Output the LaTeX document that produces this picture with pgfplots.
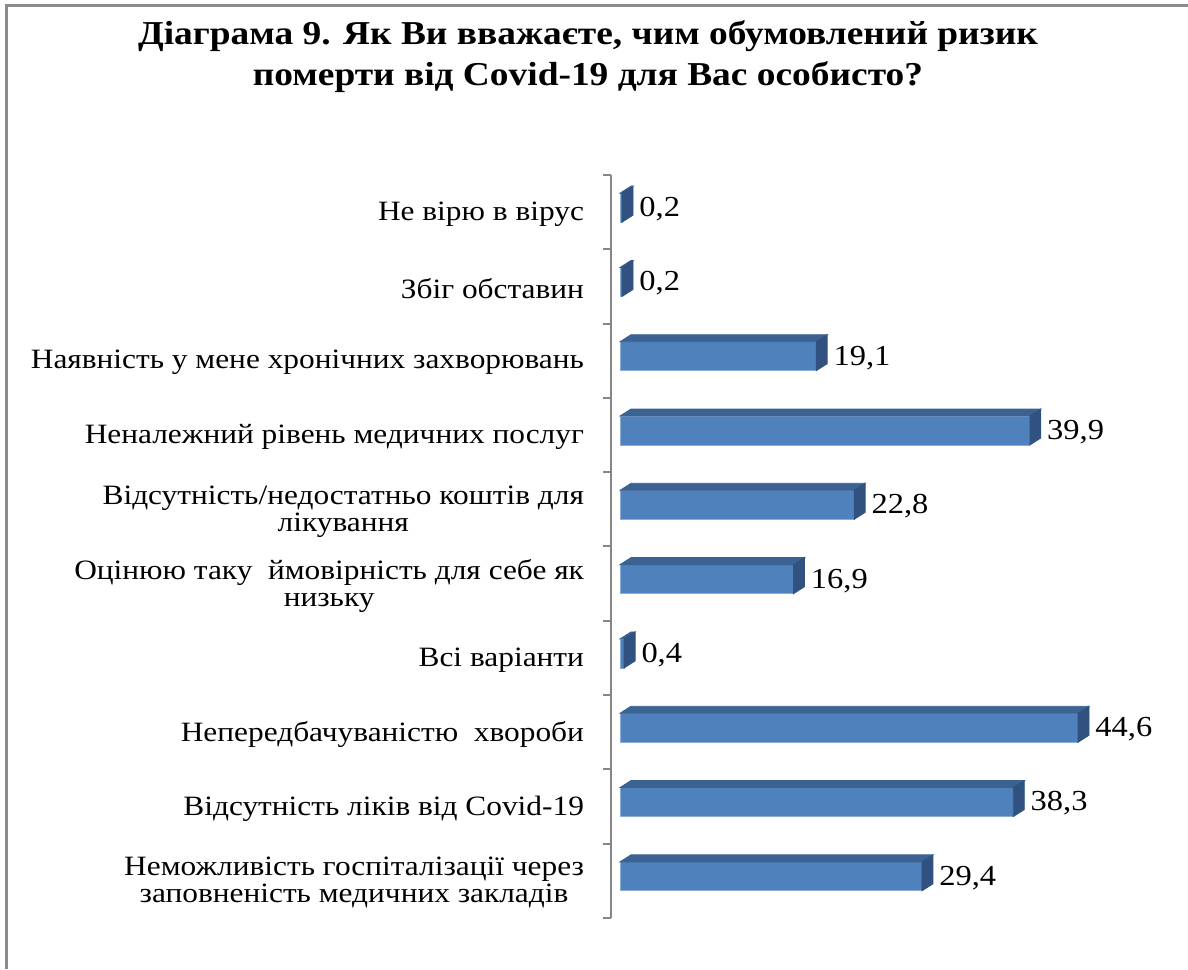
\documentclass[border=0pt]{standalone}
\usepackage{fontspec}
\setmainfont[FakeStretch=1.12]{Liberation Serif}
\usepackage{pgfplots}
\usepackage{pgfplotstable}
\pgfplotsset{compat=1.18}
\definecolor{barfront}{RGB}{79,129,189}
\definecolor{bartop}{RGB}{60,98,146}
\definecolor{barside}{RGB}{49,82,128}
\definecolor{baredge}{RGB}{140,172,214}
\definecolor{axisgray}{RGB}{134,134,134}
\definecolor{framegray}{RGB}{140,140,140}
\pgfplotstableread{
y v
0 0.2
1 0.2
2 19.1
3 39.9
4 22.8
5 16.9
6 0.4
7 44.6
8 38.3
9 29.4
}\datatable
\begin{document}
\begin{tikzpicture}
\useasboundingbox (0pt,0pt) rectangle (594pt,484.5pt);
\draw[framegray, line width=1.5pt] (3pt,0pt) -- (3pt,481.5pt) -- (594pt,481.5pt);
\node[font=\bfseries\fontsize{16.7}{20.5}\selectfont, align=center] at (294pt,456pt) {Діаграма 9. Як Ви вважаєте, чим обумовлений ризик\\померти від Covid-19 для Вас особисто?};
\begin{axis}[
  at={(305.5pt,25.5pt)}, anchor=south west,
  scale only axis, width=284.5pt, height=371.5pt,
  xmin=-0.876, xmax=54.53,
  ymin=-0.5, ymax=9.5, y dir=reverse,
  hide x axis, axis y line*=left,
  axis line style={axisgray, line width=1pt},
  ytick={0,...,9},
  yticklabels={{Не вірю в вірус},{Збіг обставин},{Наявність у мене хронічних захворювань},{Неналежний рівень медичних послуг},{Відсутність/недостатньо коштів для\\лікування},{Оцінюю таку \ ймовірність для себе як\\низьку},{Всі варіанти},{Непередбачуваністю \ хвороби},{Відсутність ліків від Covid-19},{Неможливість госпіталізації через\\заповненість медичних закладів}},
  yticklabel style={align=center, anchor=east, font=\fontsize{14}{13.5}\selectfont, xshift=-10pt, yshift=-1pt},
  major tick length=0pt,
  minor ytick={-0.5,0.5,...,9.5},
  minor tick length=4pt,
  tick align=outside,
  minor tick style={axisgray, line width=1pt},
  clip=false,
]
\addplot[scatter, only marks, mark=*, mark size=0pt,
  visualization depends on={x \as \val},
  scatter/@pre marker code/.code={%
    \pgfmathsetmacro\L{-\val*5.135}%
    \pgfmathsetmacro\Lt{5.5-\val*5.135}%
    \fill[barfront, draw=baredge, line width=0.4pt] (\L pt,-5pt) rectangle (0pt,9.5pt);
    \fill[bartop] (\L pt,9.5pt) -- (0pt,9.5pt) -- (5.5pt,13pt) -- (\Lt pt,13pt) -- cycle;
    \fill[barside] (0pt,-5pt) -- (5.5pt,-1.5pt) -- (5.5pt,13pt) -- (0pt,9.5pt) -- cycle;
    \node[anchor=west, font=\fontsize{14.5}{14}\selectfont, inner sep=0pt, black] at (8.5pt,1.5pt) {\pgfmathprintnumber[fixed, precision=1, fixed zerofill, use comma, assume math mode=true]{\val}};
  },
  scatter/@post marker code/.code={},
] table[x=v, y=y] {\datatable};
\end{axis}
\end{tikzpicture}
\end{document}
